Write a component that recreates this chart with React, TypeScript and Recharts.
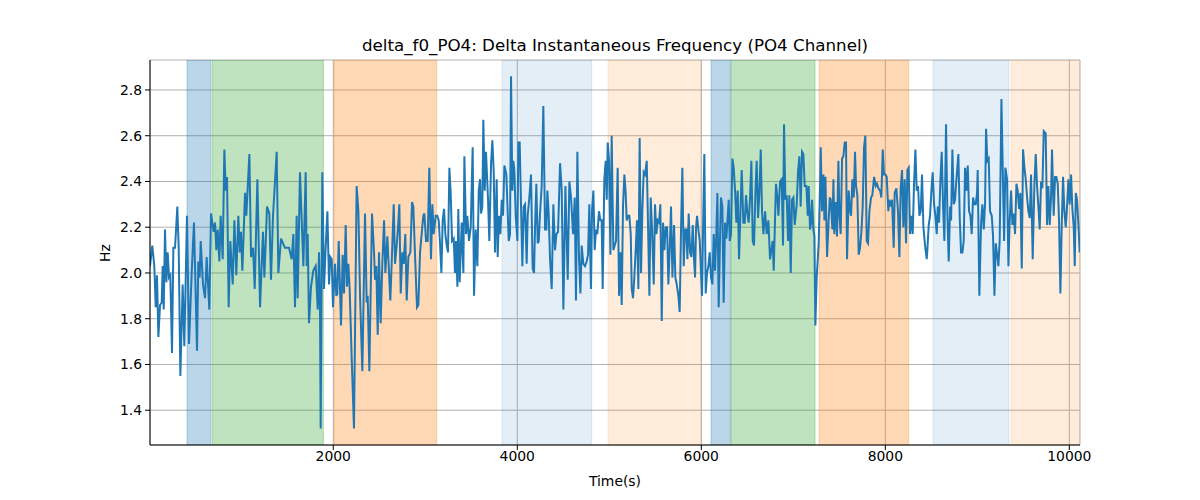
import { LineChart, Line, XAxis, YAxis, CartesianGrid, ReferenceArea } from 'recharts';

// time stamps (s) of the trace
const TIMES = [
  8, 33, 55, 70, 84, 99, 117, 135, 146, 157, 171, 186, 200, 215, 229, 247, 262, 280, 305, 320,
  338, 363, 381, 410, 432, 461, 486, 519, 533, 548, 559, 584, 606, 624, 653, 671, 700, 715, 729, 744,
  762, 776, 798, 816, 831, 845, 863, 881, 907, 925, 946, 968, 983, 997, 1012, 1041, 1055, 1088, 1106, 1128,
  1146, 1175, 1204, 1236, 1251, 1280, 1305, 1323, 1345, 1385, 1403, 1432, 1475, 1519, 1548, 1566, 1584, 1602, 1613, 1638,
  1675, 1700, 1711, 1722, 1736, 1758, 1783, 1809, 1831, 1845, 1856, 1863, 1881, 1899, 1917, 1936, 1954, 1968, 1983, 1997,
  2019, 2033, 2044, 2059, 2084, 2102, 2117, 2135, 2149, 2164, 2178, 2200, 2225, 2254, 2273, 2291, 2316, 2345, 2363, 2374,
  2392, 2421, 2443, 2454, 2468, 2483, 2497, 2515, 2533, 2552, 2566, 2588, 2606, 2620, 2638, 2657, 2671, 2689, 2704, 2718,
  2733, 2751, 2765, 2783, 2798, 2816, 2838, 2856, 2870, 2892, 2910, 2925, 2943, 2965, 2979, 2990, 3008, 3026, 3044, 3062,
  3077, 3091, 3113, 3131, 3146, 3160, 3175, 3189, 3204, 3218, 3233, 3247, 3262, 3276, 3291, 3309, 3323, 3334, 3349, 3359,
  3374, 3396, 3414, 3425, 3443, 3457, 3475, 3494, 3515, 3530, 3548, 3566, 3581, 3595, 3606, 3620, 3631, 3646, 3660, 3682,
  3696, 3715, 3729, 3744, 3758, 3776, 3787, 3802, 3816, 3831, 3845, 3860, 3881, 3907, 3921, 3932, 3946, 3957, 3968, 3983,
  4001, 4012, 4026, 4041, 4055, 4070, 4084, 4102, 4113, 4131, 4149, 4167, 4182, 4193, 4207, 4222, 4233, 4247, 4265, 4283,
  4302, 4316, 4327, 4341, 4356, 4374, 4392, 4410, 4425, 4443, 4465, 4483, 4501, 4523, 4548, 4566, 4584, 4606, 4624, 4638,
  4653, 4671, 4686, 4700, 4718, 4736, 4754, 4769, 4783, 4801, 4812, 4827, 4841, 4856, 4870, 4888, 4903, 4917, 4928, 4946,
  4961, 4972, 4983, 4997, 5012, 5026, 5044, 5073, 5091, 5106, 5120, 5135, 5149, 5164, 5178, 5189, 5204, 5218, 5233, 5244,
  5258, 5272, 5287, 5301, 5316, 5330, 5345, 5359, 5374, 5388, 5407, 5417, 5436, 5450, 5465, 5483, 5497, 5512, 5526, 5541,
  5555, 5570, 5584, 5599, 5613, 5628, 5642, 5657, 5671, 5686, 5704, 5718, 5733, 5751, 5765, 5780, 5794, 5809, 5823, 5838,
  5849, 5863, 5878, 5892, 5907, 5921, 5932, 5943, 5954, 5968, 5983, 5997, 6008, 6019, 6033, 6048, 6062, 6077, 6091, 6106,
  6120, 6135, 6149, 6164, 6175, 6189, 6204, 6214, 6229, 6243, 6258, 6272, 6283, 6298, 6309, 6323, 6338, 6352, 6367, 6381,
  6396, 6410, 6425, 6439, 6457, 6472, 6486, 6501, 6515, 6530, 6544, 6559, 6573, 6588, 6602, 6617, 6631, 6646, 6660, 6675,
  6693, 6711, 6729, 6747, 6776, 6787, 6801, 6812, 6827, 6838, 6856, 6874, 6888, 6899, 6914, 6928, 6943, 6957, 6972, 6986,
  7001, 7015, 7037, 7051, 7066, 7080, 7095, 7109, 7124, 7142, 7157, 7167, 7182, 7193, 7204, 7218, 7229, 7240, 7254, 7276,
  7291, 7298, 7312, 7327, 7338, 7349, 7367, 7381, 7396, 7407, 7425, 7436, 7446, 7461, 7475, 7490, 7501, 7515, 7530, 7544,
  7559, 7573, 7584, 7602, 7617, 7628, 7642, 7657, 7671, 7682, 7696, 7711, 7725, 7740, 7754, 7769, 7783, 7798, 7812, 7827,
  7845, 7859, 7878, 7896, 7910, 7925, 7943, 7957, 7972, 7986, 8001, 8015, 8033, 8044, 8059, 8073, 8091, 8102, 8120, 8138,
  8153, 8167, 8182, 8196, 8211, 8225, 8240, 8254, 8269, 8283, 8298, 8312, 8327, 8341, 8356, 8370, 8385, 8399, 8414, 8432,
  8450, 8457, 8472, 8486, 8504, 8515, 8530, 8544, 8559, 8570, 8584, 8599, 8613, 8628, 8642, 8660, 8675, 8689, 8704, 8715,
  8729, 8744, 8758, 8773, 8794, 8809, 8823, 8838, 8852, 8867, 8881, 8896, 8910, 8925, 8939, 8954, 8968, 8983, 8997, 9004,
  9022, 9041, 9055, 9070, 9084, 9095, 9109, 9124, 9138, 9157, 9171, 9186, 9200, 9215, 9229, 9243, 9262, 9276, 9291, 9305,
  9323, 9338, 9352, 9367, 9381, 9396, 9410, 9425, 9439, 9454, 9468, 9483, 9497, 9512, 9526, 9541, 9555, 9570, 9584, 9602,
  9620, 9635, 9649, 9664, 9678, 9693, 9707, 9722, 9743, 9758, 9772, 9787, 9801, 9812, 9830, 9845, 9859, 9874, 9888, 9903,
  9917, 9932, 9946, 9961, 9975, 9990, 10004, 10019, 10033, 10048, 10059, 10070, 10084, 10099, 10113,
];

// delta instantaneous frequency (Hz) at each time stamp
const HZ = [
  2.03, 2.12, 2.03, 1.85, 1.99, 1.72, 1.86, 1.87, 2.03, 1.84, 2.19, 1.96, 2.09, 1.98, 1.99, 1.65, 2.11, 2.11, 2.29, 2.11,
  1.55, 1.95, 1.68, 2.25, 1.69, 2.0, 2.22, 1.66, 2.05, 1.98, 2.14, 1.95, 1.89, 2.07, 1.84, 2.26, 2.18, 2.22, 2.1, 2.19,
  2.05, 2.25, 2.06, 2.54, 2.36, 2.42, 1.85, 2.14, 1.95, 2.23, 1.99, 2.25, 2.09, 2.18, 2.01, 2.35, 2.25, 2.52, 2.07, 2.11,
  1.93, 2.41, 1.85, 2.18, 1.98, 2.29, 2.26, 1.97, 2.25, 2.53, 2.0, 2.15, 2.11, 2.11, 2.06, 2.17, 1.85, 2.25, 1.89, 2.44,
  2.03, 2.44, 2.03, 2.17, 1.78, 1.94, 2.01, 2.03, 1.84, 2.09, 1.82, 1.32, 2.44, 1.93, 2.11, 2.27, 1.95, 2.07, 2.06, 1.85,
  2.04, 1.9, 1.91, 2.14, 1.77, 2.08, 1.91, 2.21, 1.94, 2.04, 1.93, 1.63, 1.32, 2.38, 2.27, 1.9, 1.57, 2.26, 1.87, 1.9,
  1.57, 2.26, 2.09, 1.97, 2.03, 1.73, 2.09, 1.78, 2.04, 2.23, 2.0, 2.16, 2.0, 1.88, 2.08, 2.3, 2.04, 2.12, 2.2, 2.3,
  1.91, 2.09, 2.04, 2.17, 1.88, 2.07, 2.09, 2.31, 2.29, 2.04, 1.85, 1.86, 2.09, 2.19, 2.25, 2.26, 2.14, 2.14, 2.46, 2.06,
  2.3, 2.17, 2.25, 2.25, 2.23, 2.13, 2.0, 2.23, 2.28, 2.17, 2.12, 2.09, 2.46, 2.35, 2.14, 2.15, 2.0, 2.14, 1.94, 2.28,
  1.96, 2.22, 2.0, 2.51, 2.17, 2.25, 2.14, 2.2, 2.55, 1.9, 2.19, 2.03, 2.36, 2.41, 2.26, 2.29, 2.67, 2.36, 2.53, 2.32,
  2.14, 2.48, 2.58, 2.44, 2.09, 2.41, 2.07, 2.25, 2.17, 2.32, 2.25, 2.47, 2.43, 2.14, 2.17, 2.86, 2.36, 2.49, 2.45, 2.25,
  2.14, 2.57, 2.57, 2.29, 2.03, 2.29, 2.3, 2.04, 2.25, 2.33, 2.43, 2.02, 2.0, 2.2, 2.39, 2.13, 2.14, 2.26, 2.38, 2.73,
  2.19, 2.19, 2.36, 2.26, 2.06, 1.93, 2.3, 2.1, 2.17, 2.18, 2.48, 2.36, 1.84, 2.38, 1.97, 2.4, 2.33, 2.17, 2.33, 1.88,
  2.53, 2.06, 1.91, 2.12, 2.04, 2.03, 2.05, 2.08, 2.3, 1.93, 2.27, 2.36, 2.1, 2.19, 2.17, 2.27, 2.23, 2.23, 1.93, 2.41,
  2.49, 2.32, 2.57, 2.49, 2.08, 2.6, 2.1, 2.14, 2.46, 1.9, 2.09, 1.86, 2.29, 2.43, 2.35, 2.23, 2.25, 2.25, 2.17, 1.93,
  1.89, 1.98, 2.1, 2.23, 1.93, 2.59, 2.0, 2.27, 2.44, 2.43, 2.49, 2.29, 1.9, 2.33, 2.19, 1.95, 2.3, 2.17, 2.23, 2.22,
  2.3, 1.79, 2.22, 2.1, 2.2, 2.2, 1.95, 2.11, 2.29, 1.98, 2.21, 1.98, 1.95, 1.9, 1.83, 2.2, 2.46, 2.03, 2.19, 2.19,
  2.06, 2.26, 2.09, 2.07, 2.21, 2.06, 1.98, 2.2, 2.25, 2.19, 2.14, 2.0, 1.9, 2.19, 2.52, 1.91, 2.0, 2.03, 2.09, 1.98,
  1.95, 2.17, 2.01, 2.18, 2.35, 1.85, 2.16, 2.33, 2.29, 1.87, 2.22, 2.15, 2.22, 2.32, 2.14, 2.17, 2.5, 2.46, 2.36, 2.22,
  2.36, 2.06, 2.26, 2.45, 2.22, 2.22, 2.34, 2.26, 2.22, 2.33, 2.49, 2.14, 2.12, 2.35, 2.49, 2.24, 2.35, 2.54, 2.27, 2.17,
  2.27, 2.17, 2.23, 2.06, 2.14, 2.01, 2.23, 2.39, 2.33, 2.25, 2.4, 2.41, 2.12, 2.65, 2.32, 2.34, 2.14, 2.34, 2.0, 2.32,
  2.33, 2.21, 2.3, 2.44, 2.51, 2.29, 2.53, 2.52, 2.38, 2.38, 2.25, 2.38, 2.19, 2.22, 2.32, 2.19, 2.16, 1.77, 1.98, 2.13,
  2.38, 2.55, 2.27, 2.43, 2.23, 2.42, 2.07, 2.2, 2.33, 2.32, 2.19, 2.41, 2.17, 2.31, 2.16, 2.49, 2.25, 2.17, 2.5, 2.51,
  2.57, 2.57, 2.06, 2.36, 2.27, 2.25, 2.41, 2.33, 2.53, 2.38, 2.34, 2.08, 2.11, 2.18, 2.29, 2.55, 2.6, 2.14, 2.13, 2.27,
  2.33, 2.34, 2.42, 2.38, 2.39, 2.37, 2.36, 2.33, 2.54, 2.43, 2.43, 2.42, 2.27, 2.32, 2.29, 2.32, 2.11, 2.35, 2.37, 2.27,
  2.07, 2.37, 2.45, 2.2, 2.41, 2.13, 2.45, 2.46, 2.17, 2.25, 2.17, 2.39, 2.54, 2.36, 2.38, 2.25, 2.27, 2.43, 2.2, 2.12,
  2.06, 2.1, 2.21, 2.25, 2.38, 2.44, 2.3, 2.25, 2.17, 2.29, 2.22, 2.41, 2.53, 2.29, 2.14, 2.65, 2.25, 2.05, 2.29, 2.23,
  2.54, 2.3, 2.32, 2.41, 2.52, 2.24, 2.09, 2.09, 2.14, 2.46, 2.36, 2.47, 2.27, 2.25, 2.17, 2.33, 2.3, 2.3, 2.35, 2.45,
  1.9, 2.22, 2.3, 2.19, 2.3, 2.63, 2.49, 2.5, 2.27, 2.25, 2.16, 1.9, 2.13, 2.08, 2.03, 2.14, 2.76, 2.46, 2.14, 2.46,
  2.41, 2.03, 2.23, 2.36, 2.21, 2.26, 2.17, 2.39, 2.36, 2.28, 2.35, 2.02, 2.54, 2.46, 2.41, 2.33, 2.27, 2.24, 2.43, 2.06,
  2.38, 2.52, 2.38, 2.29, 2.19, 2.4, 2.37, 2.62, 2.61, 2.21, 2.38, 2.21, 2.33, 2.54, 2.25, 2.42, 2.42, 2.39, 2.23, 1.91,
  2.2, 2.42, 2.27, 2.2, 2.29, 2.41, 2.3, 2.43, 2.28, 2.2, 2.03, 2.35, 2.32, 2.21, 2.09,
];

// shaded intervals (s) and their kind
const BAND_START = [410, 682, 2008, 3834, 4986, 6106, 6323, 7280, 8519, 9367];
const BAND_END = [668, 1892, 3124, 4809, 5997, 6316, 7236, 8255, 9345, 10116];
const BAND_KIND = ['blue', 'green', 'orange', 'paleBlue', 'paleOrange', 'blue', 'green', 'orange', 'paleBlue', 'paleOrange'];

const X_TICKS = [2000, 4000, 6000, 8000, 10000];
const Y_TICKS = [1.4, 1.6, 1.8, 2.0, 2.2, 2.4, 2.6, 2.8];

const BAND_STYLE: Record<string, { color: string; opacity: number }> = {
  blue: { color: '#1f77b4', opacity: 0.3 },
  green: { color: '#2ca02c', opacity: 0.3 },
  orange: { color: '#ff7f0e', opacity: 0.3 },
  paleBlue: { color: '#1f77b4', opacity: 0.12 },
  paleOrange: { color: '#ff7f0e', opacity: 0.15 },
};

const FONT = "'DejaVu Sans', sans-serif";

export default function App() {
  const data = TIMES.map((t, i) => ({ t, hz: HZ[i] }));
  const tickStyle = { fill: '#000', fontSize: 13.9, fontFamily: FONT };

  return (
    <div style={{ position: 'relative', width: 1200, height: 500, background: '#fff', fontFamily: FONT }}>
      <style>{'body{margin:0}'}</style>
      <div
        style={{
          position: 'absolute', left: 150, top: 35, width: 930, textAlign: 'center',
          fontSize: 16.7, lineHeight: '20px', color: '#000',
        }}
      >
        delta_f0_PO4: Delta Instantaneous Frequency (PO4 Channel)
      </div>
      <div
        style={{
          position: 'absolute', left: 150, top: 471, width: 930, textAlign: 'center',
          fontSize: 13.9, lineHeight: '20px', color: '#000',
        }}
      >
        Time(s)
      </div>
      <div
        style={{
          position: 'absolute', left: 85, top: 243, width: 40, height: 20, textAlign: 'center',
          fontSize: 13.9, lineHeight: '20px', color: '#000', transform: 'rotate(-90deg)',
        }}
      >
        Hz
      </div>
      <LineChart width={1200} height={500} data={data} margin={{ top: 60, right: 120, bottom: 25, left: 90 }}>
        {BAND_START.map((s, i) => {
          const st = BAND_STYLE[BAND_KIND[i]];
          return (
            <ReferenceArea
              key={i}
              x1={s}
              x2={BAND_END[i]}
              fill={st.color}
              fillOpacity={st.opacity}
              stroke={st.color}
              strokeOpacity={st.opacity}
              ifOverflow="hidden"
            />
          );
        })}
        <CartesianGrid stroke="#b0b0b0" strokeWidth={1} />
        <XAxis
          dataKey="t"
          type="number"
          domain={[8, 10116]}
          ticks={X_TICKS}
          interval={0}
          allowDataOverflow
          height={30}
          tickSize={5}
          tickMargin={1}
          tick={tickStyle}
          stroke="#000"
          tickLine={{ stroke: '#000' }}
          axisLine={{ stroke: '#000' }}
        />
        <XAxis xAxisId="top" orientation="top" type="number" domain={[8, 10116]} height={0} tick={false} tickLine={false} axisLine={{ stroke: '#000' }} />
        <YAxis
          type="number"
          domain={[1.248, 2.931]}
          ticks={Y_TICKS}
          interval={0}
          allowDataOverflow
          width={60}
          tickSize={5}
          tickMargin={3}
          tick={tickStyle}
          tickFormatter={(v: number) => v.toFixed(1)}
          tickLine={{ stroke: '#000' }}
          axisLine={{ stroke: '#000' }}
        />
        <YAxis yAxisId="right" orientation="right" type="number" domain={[1.248, 2.931]} width={0} tick={false} tickLine={false} axisLine={{ stroke: '#000' }} />
        <Line
          type="linear"
          dataKey="hz"
          stroke="#1f77b4"
          strokeWidth={2}
          dot={false}
          isAnimationActive={false}
        />
      </LineChart>
    </div>
  );
}
